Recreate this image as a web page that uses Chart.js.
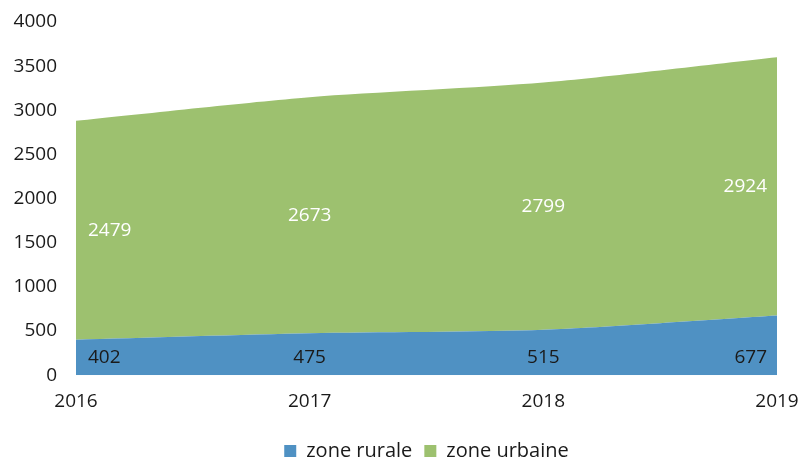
<!DOCTYPE html>
<html><head><meta charset="utf-8">
<script src="https://cdn.jsdelivr.net/npm/chart.js@4"></script>
<style>html,body{margin:0;padding:0;background:#fff}#w{width:799px;height:459px}</style>
</head><body><div id="w"><canvas id="c"></canvas></div>
<script>
const categories = ['2016','2017','2018','2019'];
const rurale = [402, 475, 515, 677];
const urbaine = [2479, 2673, 2799, 2924];
const yTicks = [0,500,1000,1500,2000,2500,3000,3500,4000];

const FONT = "'Open Sans', 'DejaVu Sans', sans-serif";
const FS = 19;

const labelPlugin = {
  id: 'labels',
  afterDatasetsDraw(chart) {
    const ctx = chart.ctx;
    const xs = chart.scales.x, ys = chart.scales.y;
    ctx.save();
    ctx.font = FS + 'px ' + FONT;
    ctx.textBaseline = 'middle';
    const n = categories.length;
    const colors = ['#1a1a1a', '#ffffff'];
    chart.data.datasets.forEach((ds, di) => {
      ds.data.forEach((v, i) => {
        const x = xs.getPixelForValue(i);
        let y;
        if (di === 0) {
          y = ys.getPixelForValue(ds.data[0] / 2);
        } else {
          let base = 0;
          for (let k = 0; k < di; k++) base += chart.data.datasets[k].data[i];
          y = (ys.getPixelForValue(base) + ys.getPixelForValue(base + v)) / 2;
        }
        ctx.fillStyle = colors[di];
        let tx = x;
        if (i === 0) { ctx.textAlign = 'left'; tx = x + 12; }
        else if (i === n - 1) { ctx.textAlign = 'right'; tx = x - 10; }
        else ctx.textAlign = 'center';
        ctx.fillText(String(v), tx, y);
      });
    });
    ctx.restore();
  }
};

new Chart(document.getElementById('c'), {
  type: 'line',
  data: {
    labels: categories,
    datasets: [
      { label: 'zone rurale', data: rurale, fill: 'origin', backgroundColor: '#4F91C3', borderColor: '#4F91C3', borderWidth: 0, pointRadius: 0, tension: 0.25 },
      { label: 'zone urbaine', data: urbaine, fill: '-1', backgroundColor: '#9DC16F', borderColor: '#9DC16F', borderWidth: 0, pointRadius: 0, tension: 0.25 }
    ]
  },
  options: {
    responsive: true, maintainAspectRatio: false, animation: false,
    layout: { padding: { top: 22, right: 22, left: 10, bottom: -12 } },
    scales: {
      x: { offset: false, grid: { display: false, drawTicks: false }, border: { display: false },
           afterFit: s => { s.paddingLeft = 0; s.paddingRight = 0; s.height += 1; },
           ticks: { color: '#1a1a1a', font: { family: FONT, size: FS }, padding: 15, maxRotation: 0, autoSkip: false } },
      y: { stacked: true, min: 0, max: 4000, grid: { display: false, drawTicks: false }, border: { display: false },
           afterFit: s => { s.paddingTop = 0; s.paddingBottom = 0; s.width = 66; },
           afterBuildTicks: s => { s.ticks = yTicks.map(v => ({ value: v })); },
           ticks: { color: '#1a1a1a', font: { family: FONT, size: FS }, padding: 19, callback: v => String(v) } }
    },
    plugins: {
      legend: { position: 'bottom', fullSize: false, labels: { color: '#1a1a1a', font: { family: FONT, size: 20 }, boxWidth: 12, boxHeight: 12, padding: 12 } },
      tooltip: { enabled: false }
    }
  },
  plugins: [labelPlugin]
});
</script></body></html>
